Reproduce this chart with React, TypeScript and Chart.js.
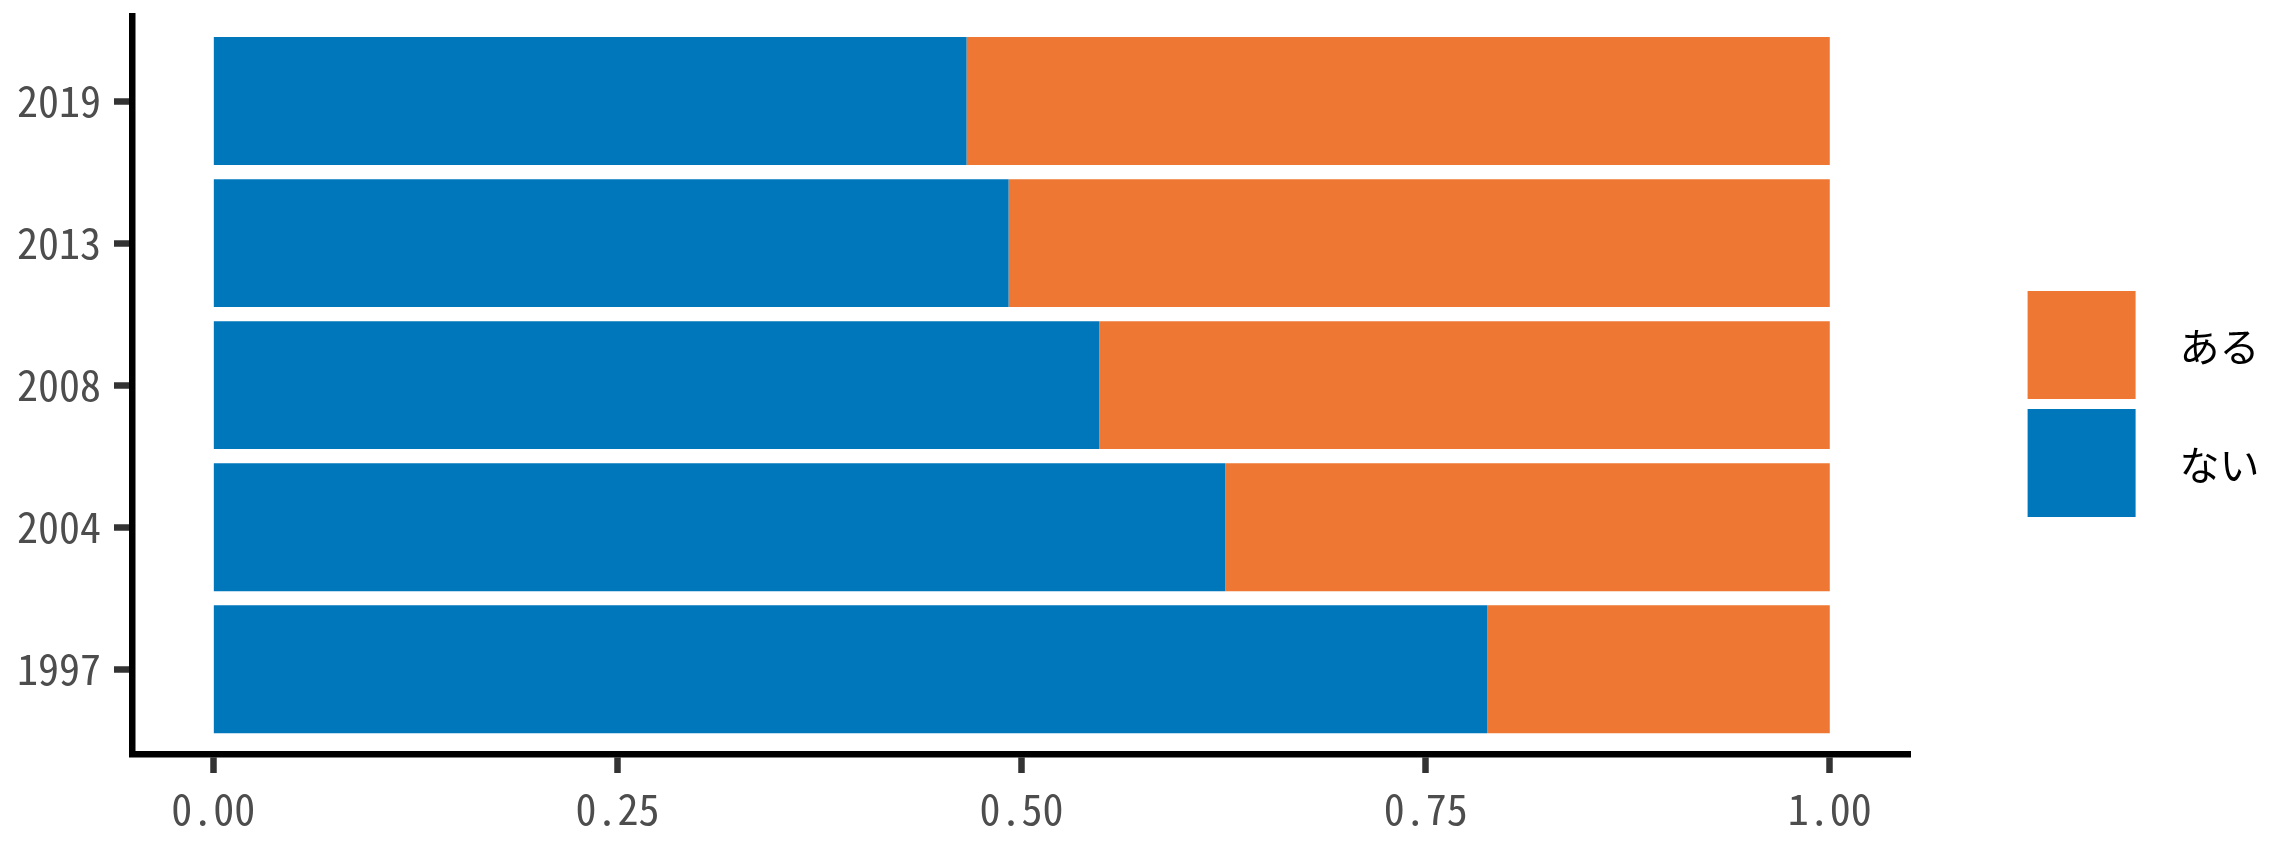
import React, { useEffect, useRef } from "react";
import { Chart, registerables } from "chart.js";

Chart.register(...registerables);

// ---- data ----
const years: string[] = ["1997", "2004", "2008", "2013", "2019"];
const naiValues: number[] = [0.788, 0.626, 0.548, 0.492, 0.466]; // ない
const aruValues: number[] = [0.212, 0.374, 0.452, 0.508, 0.534]; // ある
const xTickValues: number[] = [0, 0.25, 0.5, 0.75, 1];
const seriesLabels: string[] = ["ない", "ある"];
const seriesColors: string[] = ["#0077BB", "#EE7733"];

const TICK_FONT = "'Noto Sans Mono CJK JP', 'Noto Sans CJK JP', sans-serif";
const LEGEND_FONT = "'Noto Sans CJK JP', 'Noto Sans', sans-serif";

const legendPlugin = {
  id: "rightLegend",
  afterDraw(chart: any) {
    const { ctx, chartArea } = chart;
    const ds = chart.data.datasets.slice().reverse();
    const boxX = chartArea.right + 117;
    const boxSize = 108;
    const gap = 10;
    const startY = 291;
    ctx.save();
    ds.forEach((d: any, i: number) => {
      const y = startY + i * (boxSize + gap);
      ctx.fillStyle = d.backgroundColor;
      ctx.fillRect(boxX, y, boxSize, boxSize);
      ctx.fillStyle = "#000000";
      ctx.font = `40px ${LEGEND_FONT}`;
      ctx.textAlign = "left";
      ctx.textBaseline = "middle";
      ctx.fillText(d.label, boxX + 152, y + boxSize / 2 + 2);
    });
    ctx.restore();
  },
};

export default function App() {
  const canvasRef = useRef<HTMLCanvasElement | null>(null);

  useEffect(() => {
    let chart: Chart | null = null;
    let cancelled = false;

    const build = () => {
      if (cancelled || !canvasRef.current) return;
      const axisTick = {
        drawOnChartArea: false,
        drawTicks: true,
        offset: false,
        tickLength: 18.5,
        tickWidth: 6.5,
        tickColor: "#333333",
      };
      const axisBorder = { display: true, color: "#000000", width: 6.5 };
      chart = new Chart(canvasRef.current, {
        type: "bar",
        data: {
          datasets: [
            {
              label: seriesLabels[0],
              data: naiValues.map((v, i) => ({ x: v, y: i })),
              backgroundColor: seriesColors[0],
              borderWidth: 0,
              barPercentage: 0.9,
              categoryPercentage: 1.0,
            },
            {
              label: seriesLabels[1],
              data: aruValues.map((v, i) => ({ x: v, y: i })),
              backgroundColor: seriesColors[1],
              borderWidth: 0,
              barPercentage: 0.9,
              categoryPercentage: 1.0,
            },
          ],
        } as any,
        options: {
          indexAxis: "y",
          animation: false,
          responsive: false,
          maintainAspectRatio: false,
          layout: { padding: { top: 15.8, right: 366.4, left: 0, bottom: 0 } },
          plugins: {
            legend: { display: false },
            tooltip: { enabled: false },
          },
          scales: {
            x: {
              type: "linear",
              stacked: true,
              offset: false,
              min: -0.05,
              max: 1.05,
              afterBuildTicks: (s: any) => {
                s.ticks = xTickValues.map((v) => ({ value: v }));
              },
              afterFit: (s: any) => {
                s.height = 92.5;
                s.paddingLeft = 0;
                s.paddingRight = 0;
              },
              grid: axisTick,
              border: axisBorder,
              ticks: {
                font: { family: TICK_FONT, size: 42 },
                color: "#4D4D4D",
                padding: 11,
                maxRotation: 0,
                callback: (v: any) => Number(v).toFixed(2),
              },
            },
            y: {
              type: "linear",
              stacked: true,
              offset: false,
              min: -0.6,
              max: years.length - 1 + 0.6,
              afterBuildTicks: (s: any) => {
                s.ticks = years.map((_, i) => ({ value: i }));
              },
              afterFit: (s: any) => {
                s.width = 132.5;
                s.paddingTop = 0;
                s.paddingBottom = 0;
              },
              grid: axisTick,
              border: axisBorder,
              ticks: {
                font: { family: TICK_FONT, size: 42 },
                color: "#4D4D4D",
                padding: 13,
                callback: (v: any) => years[Math.round(Number(v))] ?? "",
              },
            },
          },
        } as any,
        plugins: [legendPlugin],
      });
    };

    const fonts = (document as any).fonts;
    if (fonts && fonts.load) {
      Promise.all([
        fonts.load(`42px ${TICK_FONT}`, "0123456789."),
        fonts.load(`40px ${LEGEND_FONT}`, "あるない"),
      ]).then(build, build);
    } else {
      build();
    }

    return () => {
      cancelled = true;
      if (chart) chart.destroy();
    };
  }, []);

  return (
    <div
      style={{
        position: "fixed",
        left: 0,
        top: 0,
        width: 2277,
        height: 847,
        background: "#ffffff",
      }}
    >
      <canvas
        ref={canvasRef}
        width={2277}
        height={847}
        style={{ display: "block", width: 2277, height: 847 }}
      />
    </div>
  );
}
